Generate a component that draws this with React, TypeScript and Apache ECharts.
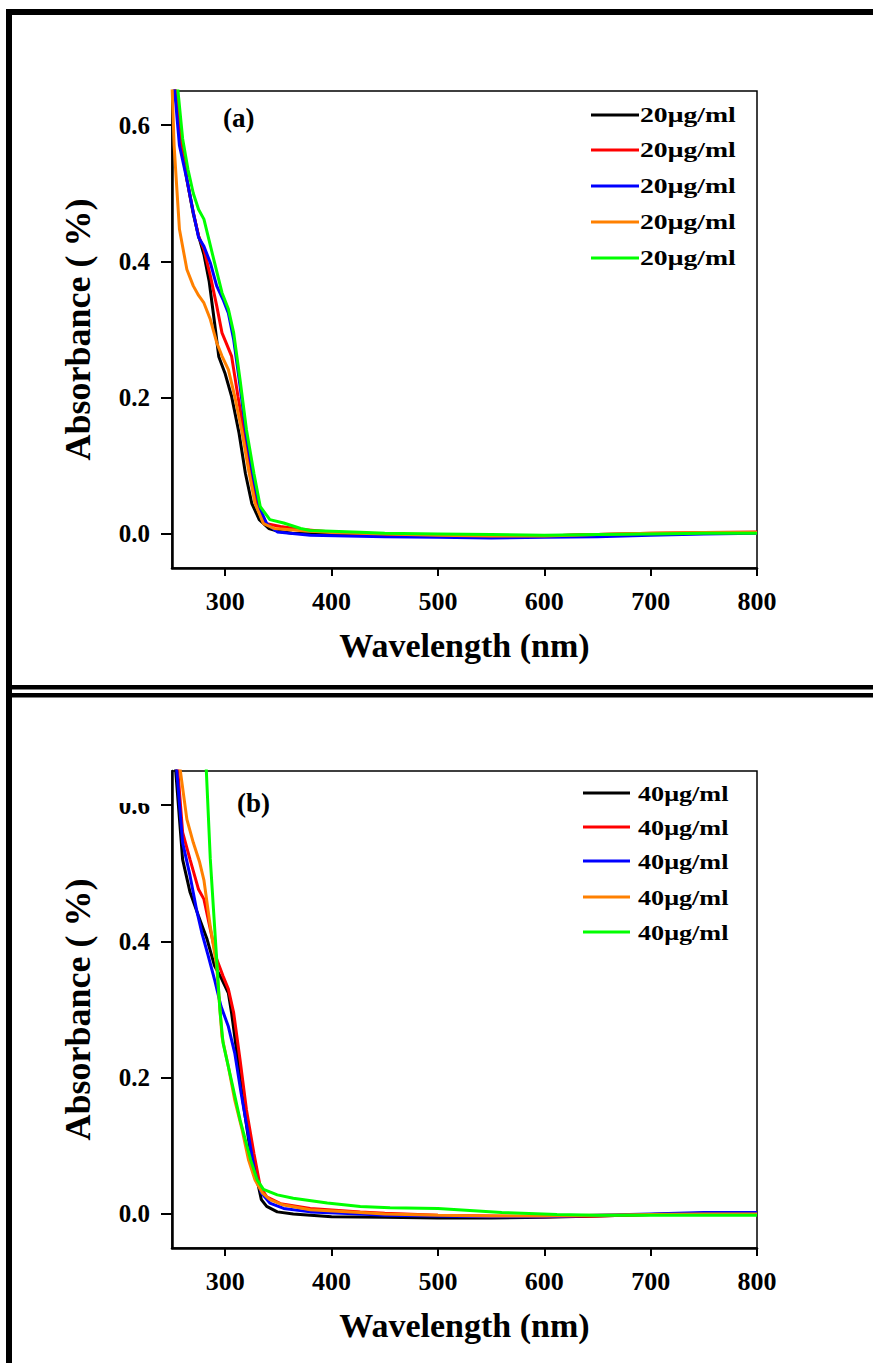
import React, { useEffect, useRef } from "react";
import * as echarts from "echarts";

// ---------- data ----------
const xTicks = [300, 400, 500, 600, 700, 800];
const yTicks = [0, 0.2, 0.4, 0.6];
const seriesColors = ["#000000", "#ff0000", "#0000ff", "#ff8000", "#00ff00"];
const namesA = ["20μg/ml", "20μg/ml", "20μg/ml", "20μg/ml", "20μg/ml"];
const namesB = ["40μg/ml", "40μg/ml", "40μg/ml", "40μg/ml", "40μg/ml"];

const blackA = [[252,0.66],[258,0.585],[264,0.52],[270,0.47],[275,0.437],[280,0.41],[285,0.37],[290,0.31],[294,0.26],[300,0.235],[306,0.202],[313,0.148],[319,0.089],[325,0.045],[332,0.021],[341,0.008],[350,0.004],[363,0.001],[400,-0.001],[450,-0.002],[500,-0.003],[550,-0.003],[600,-0.003],[650,-0.001],[700,0.0],[750,0.001],[800,0.002]];
const redA = [[253,0.66],[258,0.575],[264,0.52],[270,0.472],[275,0.437],[280,0.418],[286,0.379],[292,0.335],[297,0.295],[301,0.28],[306,0.261],[312,0.202],[319,0.138],[325,0.079],[331,0.036],[339,0.015],[352,0.011],[370,0.007],[400,0.003],[450,0.0],[500,-0.002],[550,-0.003],[600,-0.003],[650,-0.001],[700,0.001],[750,0.002],[800,0.003]];
const blueA = [[252,0.66],[257,0.57],[264,0.52],[270,0.472],[275,0.435],[280,0.422],[286,0.398],[292,0.364],[298,0.344],[303,0.324],[308,0.285],[314,0.217],[320,0.143],[327,0.079],[333,0.036],[339,0.015],[349,0.003],[380,-0.002],[450,-0.004],[500,-0.005],[550,-0.006],[600,-0.005],[650,-0.004],[700,-0.002],[750,0.0],[800,0.001]];
const orangeA = [[250,0.66],[252,0.57],[254,0.52],[257,0.447],[264,0.388],[270,0.364],[275,0.35],[280,0.339],[286,0.315],[292,0.281],[297,0.261],[303,0.241],[309,0.202],[316,0.148],[322,0.094],[328,0.045],[336,0.015],[346,0.008],[370,0.005],[400,0.002],[450,0.0],[500,-0.002],[550,-0.003],[600,-0.003],[650,-0.001],[700,0.001],[750,0.002],[800,0.002]];
const greenA = [[255,0.66],[260,0.58],[265,0.535],[270,0.5],[275,0.476],[280,0.462],[285,0.43],[290,0.398],[297,0.354],[303,0.33],[308,0.295],[314,0.226],[320,0.153],[327,0.089],[333,0.04],[342,0.021],[355,0.016],[371,0.008],[380,0.005],[427,0.0025],[450,0.001],[500,0.0],[550,-0.001],[600,-0.002],[650,-0.001],[700,0.0],[750,0.001],[800,0.001]];

const blackB = [[253,0.66],[260,0.52],[267,0.472],[275,0.437],[283,0.403],[290,0.364],[297,0.344],[303,0.324],[306,0.295],[311,0.236],[317,0.162],[323,0.099],[330,0.05],[334,0.021],[339,0.011],[349,0.003],[364,0.0],[400,-0.004],[450,-0.005],[500,-0.006],[550,-0.006],[600,-0.005],[650,-0.003],[700,-0.001],[750,0.0],[800,0.001]];
const redB = [[255,0.66],[260,0.56],[267,0.52],[275,0.476],[280,0.462],[286,0.418],[292,0.374],[298,0.349],[303,0.33],[308,0.295],[314,0.226],[320,0.153],[327,0.089],[333,0.04],[339,0.025],[352,0.015],[380,0.008],[427,0.003],[450,0.001],[500,-0.002],[550,-0.003],[600,-0.004],[650,-0.003],[700,-0.001],[750,0.001],[800,0.001]];
const blueB = [[254,0.66],[260,0.545],[267,0.496],[273,0.447],[278,0.413],[284,0.379],[290,0.344],[296,0.305],[303,0.275],[309,0.236],[315,0.177],[322,0.114],[328,0.06],[334,0.031],[342,0.016],[355,0.008],[380,0.003],[427,0.0],[450,-0.002],[500,-0.003],[550,-0.004],[600,-0.004],[650,-0.002],[700,0.0],[750,0.002],[800,0.002]];
const orangeB = [[257,0.66],[264,0.579],[270,0.545],[276,0.516],[280,0.49],[286,0.422],[292,0.364],[297,0.26],[303,0.216],[309,0.167],[316,0.123],[322,0.079],[328,0.05],[335,0.031],[342,0.021],[355,0.013],[380,0.006],[427,0.002],[450,0.0],[500,-0.002],[550,-0.003],[600,-0.003],[650,-0.002],[700,-0.001],[750,0.0],[800,0.0]];
const greenB = [[282,0.66],[286,0.521],[289,0.447],[292,0.374],[295,0.3],[298,0.251],[305,0.202],[314,0.138],[324,0.079],[330,0.05],[336,0.036],[349,0.028],[364,0.023],[396,0.016],[427,0.011],[455,0.009],[500,0.008],[560,0.002],[612,-0.001],[650,-0.002],[700,-0.002],[750,-0.002],[800,-0.002]];

const panelA = [blackA, redA, blueA, orangeA, greenA];
const panelB = [blackB, redB, blueB, orangeB, greenB];

const FONT = "Liberation Serif";

function makeAxes(gridIndex: number) {
  const x = {
    type: "value", gridIndex, min: 250, max: 800,
    axisLine: { show: true, onZero: false, lineStyle: { color: "#000", width: 2.5 } },
    axisTick: { show: true, length: 8, customValues: xTicks, lineStyle: { color: "#000", width: 2 } },
    axisLabel: { customValues: xTicks, margin: 20, color: "#000", fontFamily: FONT, fontWeight: "bold", fontSize: 26 },
    splitLine: { show: false },
    name: "Wavelength (nm)", nameLocation: "middle", nameGap: 60,
    nameTextStyle: { color: "#000", fontFamily: FONT, fontWeight: "bold", fontSize: 34 },
  };
  const y = {
    type: "value", gridIndex, min: -0.05, max: 0.65,
    axisLine: { show: true, onZero: false, lineStyle: { color: "#000", width: 2.5 } },
    axisTick: { show: true, length: 11, customValues: yTicks, lineStyle: { color: "#000", width: 2 } },
    axisLabel: { customValues: yTicks, margin: 22, color: "#000", fontFamily: FONT, fontWeight: "bold", fontSize: 25,
      formatter: (v: number) => v.toFixed(1) },
    splitLine: { show: false },
    name: "Absorbance ( %)", nameLocation: "middle", nameGap: 76,
    nameTextStyle: { color: "#000", fontFamily: FONT, fontWeight: "bold", fontSize: 36 },
  };
  return { x, y };
}

function legendGraphics(names: string[], lineX0: number, lineX1: number, textX: number, rowY: number[], fontSize: number, scaleX: number) {
  const els: any[] = [];
  names.forEach((n, i) => {
    els.push({ type: "line", shape: { x1: lineX0, y1: rowY[i], x2: lineX1, y2: rowY[i] }, style: { stroke: seriesColors[i], lineWidth: 3 }, z: 50 });
    els.push({ type: "text", x: textX, y: rowY[i], scaleX, z: 50,
      style: { text: n, fill: "#000", fontFamily: FONT, fontWeight: "bold", fontSize, verticalAlign: "middle", align: "left" } });
  });
  return els;
}

export default function App() {
  const ref = useRef<HTMLDivElement>(null);
  useEffect(() => {
    if (!ref.current) return;
    const chart = echarts.init(ref.current, null, { renderer: "svg" });
    const a = makeAxes(0);
    const b = makeAxes(1);
    const series: any[] = [];
    panelA.forEach((d, i) => series.push({ type: "line", name: namesA[i] + " a" + i, xAxisIndex: 0, yAxisIndex: 0, data: d,
      showSymbol: false, symbol: "none", lineStyle: { color: seriesColors[i], width: 3 }, itemStyle: { color: seriesColors[i] } }));
    panelB.forEach((d, i) => series.push({ type: "line", name: namesB[i] + " b" + i, xAxisIndex: 1, yAxisIndex: 1, data: d,
      showSymbol: false, symbol: "none", lineStyle: { color: seriesColors[i], width: 3 }, itemStyle: { color: seriesColors[i] } }));

    const graphic: any[] = [
      // outer frames
      { type: "rect", shape: { x: 6, y: 9, width: 867, height: 6 }, style: { fill: "#000" }, z: 60 },
      { type: "rect", shape: { x: 6, y: 9, width: 6, height: 1354 }, style: { fill: "#000" }, z: 60 },
      { type: "rect", shape: { x: 6, y: 685, width: 867, height: 4.5 }, style: { fill: "#000" }, z: 60 },
      { type: "rect", shape: { x: 6, y: 693, width: 867, height: 4.5 }, style: { fill: "#000" }, z: 60 },
      // clipping of the top tick label in panel (b)
      { type: "rect", shape: { x: 105, y: 788, width: 52, height: 15 }, style: { fill: "#fff" }, z: 55 },
      // panel labels
      { type: "text", x: 223, y: 118, z: 50, style: { text: "(a)", fill: "#000", fontFamily: FONT, fontWeight: "bold", fontSize: 27, verticalAlign: "middle" } },
      { type: "text", x: 237, y: 803, z: 50, style: { text: "(b)", fill: "#000", fontFamily: FONT, fontWeight: "bold", fontSize: 27, verticalAlign: "middle" } },
      ...legendGraphics(namesA, 591, 639, 640, [115, 150, 186, 222, 258], 21, 1.32),
      ...legendGraphics(namesB, 583, 630, 638, [793, 827, 861, 897, 932], 22, 1.19),
    ];

    chart.setOption({
      animation: false,
      backgroundColor: "#fff",
      grid: [
        { left: 172, top: 91, width: 585, height: 477, show: true, borderColor: "#000", borderWidth: 1.5, backgroundColor: "transparent" },
        { left: 172, top: 771, width: 585, height: 477, show: true, borderColor: "#000", borderWidth: 1.5, backgroundColor: "transparent" },
      ],
      xAxis: [a.x, b.x],
      yAxis: [a.y, b.y],
      series,
      graphic,
    });
    return () => chart.dispose();
  }, []);
  return <div ref={ref} style={{ position: "absolute", left: 0, top: 0, width: 873, height: 1363 }} />;
}
